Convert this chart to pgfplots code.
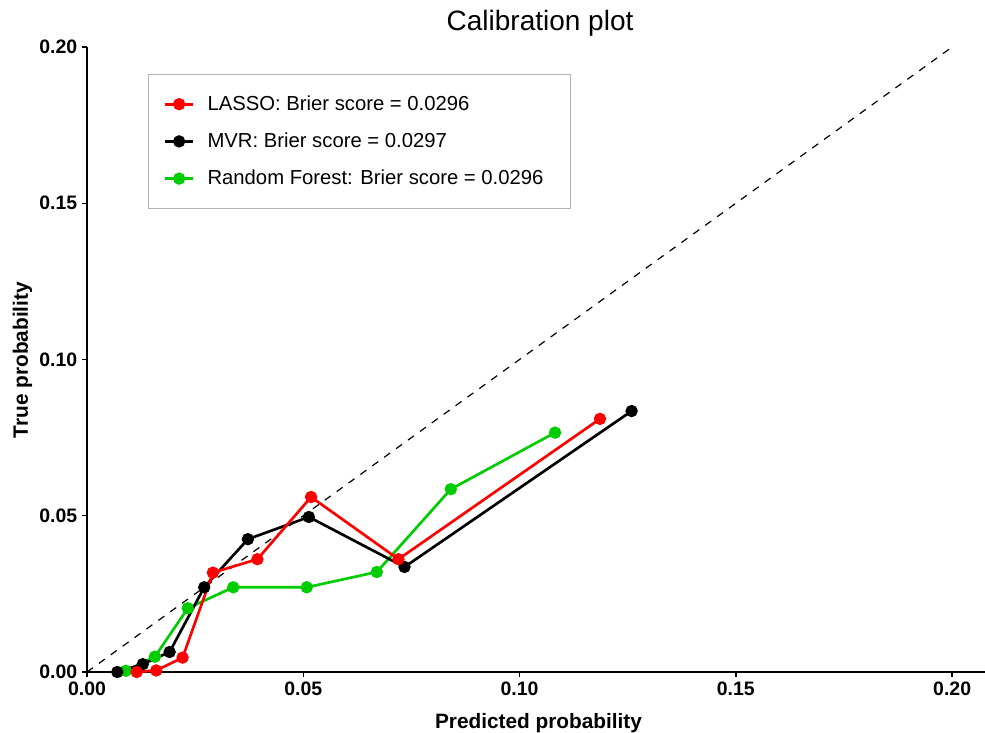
\documentclass[border=0pt]{standalone}
\usepackage{fontspec}
\setmainfont{Liberation Sans}
\usepackage{pgfplots}
\pgfplotsset{compat=1.18}
\definecolor{rfgreen}{HTML}{00CD00}
\definecolor{lgray}{HTML}{B3B3B3}
\begin{document}
\begin{tikzpicture}
\begin{axis}[
  name=ax,
  at={(0,0)}, anchor=south west,
  scale only axis,
  width=673.5pt, height=468.75pt,
  xmin=0, xmax=0.2076, ymin=0, ymax=0.2,
  axis x line*=bottom, axis y line*=left,
  axis line style={line width=1.1pt, black},
  tick align=outside,
  major tick length=3.75pt,
  every tick/.style={black, line width=1.1pt},
  xtick={0,0.05,0.1,0.15,0.2},
  ytick={0,0.05,0.1,0.15,0.2},
  xticklabels={0.00,0.05,0.10,0.15,0.20},
  yticklabels={0.00,0.05,0.10,0.15,0.20},
  ticklabel style={font=\fontsize{14.6}{17}\selectfont\bfseries, text=black},
  title={Calibration plot},
  title style={font=\fontsize{21}{25}\selectfont, at={(axis description cs:0.5045,1.0128)}, anchor=base},
  xlabel={Predicted probability},
  ylabel={True probability},
  xlabel style={font=\fontsize{15.6}{19}\selectfont\bfseries, at={(axis description cs:0.5028,-0.0896)}, anchor=base},
  ylabel style={font=\fontsize{15.6}{19}\selectfont\bfseries, at={(axis description cs:-0.0657,0.4992)}, anchor=base, rotate=0},
  legend image code/.code={\draw[mark repeat=2,mark phase=2,#1] plot coordinates {(0pt,0pt)(10.3pt,0pt)(20.6pt,0pt)};},
  legend cell align=left,
  legend style={
    at={(axis description cs:0.0682,0.9568)}, anchor=north west,
    draw=lgray, line width=0.75pt, fill=white,
    inner xsep=11.5pt, inner ysep=14pt,
    row sep=11.4pt,
    font=\fontsize{15.2}{18}\selectfont,
    /tikz/every odd column/.append style={column sep=8pt},
  },
]
\addlegendimage{red, line width=2pt, mark=*, mark size=3.6pt}
\addlegendentry{LASSO: Brier score = 0.0296}
\addlegendimage{black, line width=2pt, mark=*, mark size=3.6pt}
\addlegendentry{MVR: Brier score = 0.0297}
\addlegendimage{rfgreen, line width=2pt, mark=*, mark size=3.6pt}
\addlegendentry{Random Forest: Brier score = 0.0296\hspace*{6.5pt}}

\addplot[black, dash pattern=on 5.5pt off 5.5pt, line width=0.9pt, forget plot] coordinates {(0,0) (0.2,0.2)};
\addplot[rfgreen, line width=2pt, mark=*, mark size=3.6pt, forget plot] coordinates {
 (0.0090,0.0004) (0.0157,0.0049) (0.0233,0.0204) (0.0338,0.0271)
 (0.0508,0.0271) (0.0670,0.0320) (0.0841,0.0585) (0.1082,0.0766)};
\addplot[black, line width=2pt, mark=*, mark size=3.6pt, forget plot] coordinates {
 (0.0070,0.0000) (0.0129,0.0025) (0.0191,0.0064) (0.0271,0.0271)
 (0.0372,0.0425) (0.0513,0.0496) (0.0734,0.0336) (0.1259,0.0835)};
\addplot[red, line width=2pt, mark=*, mark size=3.6pt, forget plot] coordinates {
 (0.0115,0.0000) (0.0160,0.0005) (0.0221,0.0046) (0.0291,0.0318)
 (0.0394,0.0361) (0.0518,0.0560) (0.0720,0.0361) (0.1186,0.0810)};
\end{axis}
\pgfresetboundingbox
\path[use as bounding box] (ax.south west) ++(-65.25pt,-45pt) rectangle ++(738.75pt,549pt);
\end{tikzpicture}
\end{document}
